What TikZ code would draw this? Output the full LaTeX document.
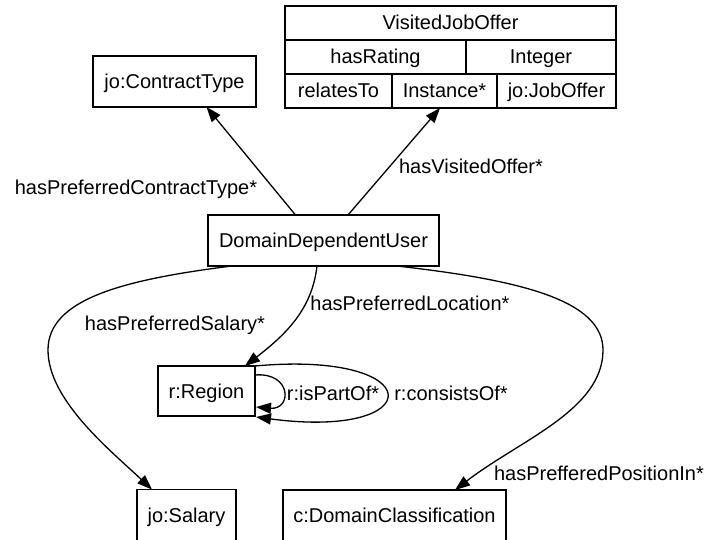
\documentclass[tikz,border=0pt]{standalone}
\usepackage{fontspec}
\setmainfont{Liberation Sans}
\usetikzlibrary{arrows.meta,calc}
\begin{document}
\begin{tikzpicture}[x=1pt,y=-1pt,
  every node/.style={font=\fontsize{20}{24}\selectfont, inner sep=0pt, outer sep=0pt, text height=14pt, text depth=0pt},
  box/.style={draw, line width=1.3pt},
  edge/.style={line width=1.3pt, -{Triangle[length=15pt,width=11pt]}}]
\useasboundingbox (0,0) rectangle (706,540);
% table
\node[box, minimum width=331pt, minimum height=34pt] (vjo) at (450.5,23) {VisitedJobOffer};
\node[box, minimum width=181pt, minimum height=34pt] (rating) at (375.5,57) {hasRating};
\node[box, minimum width=150pt, minimum height=34pt] (int) at (541,57) {Integer};
\node[box, minimum width=107pt, minimum height=34pt] (rel) at (338.5,91) {relatesTo};
\node[box, minimum width=105pt, minimum height=34pt] (inst) at (444.5,91) {Instance*};
\node[box, minimum width=119pt, minimum height=34pt] (jobo) at (556.5,91) {jo:JobOffer};
% boxes
\node[box, minimum width=163pt, minimum height=51pt] (ct) at (174.5,81.5) {jo:ContractType};
\node[box, minimum width=231pt, minimum height=51pt] (ddu) at (323.5,240.5) {DomainDependentUser};
\node[box, minimum width=97pt, minimum height=50pt] (reg) at (206.5,391) {r:Region};
\node[box, minimum width=99pt, minimum height=51pt] (sal) at (186.5,515) {jo:Salary};
\node[box, minimum width=223pt, minimum height=51pt] (dc) at (394.5,515.5) {c:DomainClassification};
% edges
\draw[edge] ($(ddu.north)+(-28,0)$) -- ($(ct.south)+(32,0)$);
\draw[edge] ($(ddu.north)+(24.5,0)$) -- ($(inst.south)+(-4.5,0)$);
\draw[edge] ($(ddu.south)+(-6.5,0)$) .. controls (312,310) and (285,335) .. ($(reg.north)+(38.5,0)$);
\draw[edge] ($(ddu.south)+(-91.5,0)$) .. controls (120,280) and (48,300) .. (48,350) .. controls (48,400) and (110,450) .. ($(sal.north)+(-34.5,0)$);
\draw[edge] ($(ddu.south)+(73.5,0)$) .. controls (520,280) and (603,300) .. (603,350) .. controls (603,410) and (520,440) .. ($(dc.north)+(60.5,0)$);
\draw[edge] ($(reg.east)+(0,-16)$) .. controls (292,372) and (292,410) .. ($(reg.east)+(1,16)$);
\draw[edge] (reg.north east) .. controls (430,350) and (430,440) .. ($(reg.south east)+(1,1)$);
% labels
\node (l1) at (136,187) {hasPreferredContractType*};
\node (l2) at (471,167) {hasVisitedOffer*};
\node (l3) at (410,303) {hasPreferredLocation*};
\node (l4) at (175,323) {hasPreferredSalary*};
\node (l5) at (333,393) {r:isPartOf*};
\node (l6) at (451,393) {r:consistsOf*};
\node (l7) at (599,473) {hasPrefferedPositionIn*};
\end{tikzpicture}
\end{document}
